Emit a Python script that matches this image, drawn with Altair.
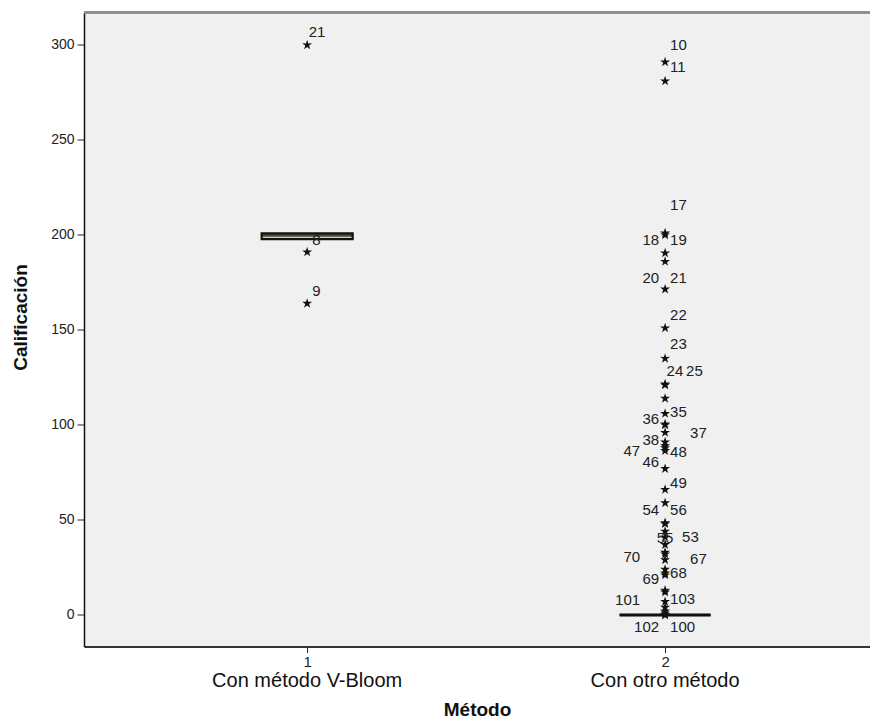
import altair as alt
import pandas as pd

# ---------------- data ----------------
groups = [1, 2]
group_names = ["Con método V-Bloom", "Con otro método"]
box_q1 = [197.8, 0]
box_median = [200, 0]
box_q3 = [200.8, 0]

outliers_g1 = [300, 191, 164]
outliers_g2 = [291, 281, 201, 200, 190.5, 186, 171.5, 151, 135, 121.5, 121, 114,
               106, 100.5, 100, 96, 91, 89, 88, 86.5, 77, 66, 59, 48.5, 48, 44,
               41, 37, 33, 32, 29, 24, 22, 21, 13, 12, 7, 4, 2, 1, 0, 0]

label_text = ["21", "8", "9",
              "10", "11", "17", "18", "19", "20", "21", "22", "23", "24", "25",
              "35", "36", "37", "38", "47", "48", "46", "49", "54", "56", "55",
              "53", "70", "67", "69", "68", "101", "103", "102", "100"]
label_value = [307, 197.4, 170.7,
               300, 288.4, 215.8, 197.4, 197.4, 177.5, 177.5, 157.9, 142.6, 128.4, 128.4,
               107, 103.2, 96, 92.1, 86.5, 86, 80.5, 69.6, 55.3, 55.3, 40.5,
               40.9, 30.7, 29.5, 18.9, 22.3, 7.9, 8.4, -6.3, -6.3]
label_group = [1, 1, 1] + [2] * 31
label_side = ["R0", "R", "R",
              "R", "R", "R", "L", "R", "L", "R", "R", "R", "R0", "RW",
              "R", "L", "RR", "L", "LL", "R", "L", "R", "L", "R", "C",
              "RM", "LL", "RR", "L", "R", "LL", "R", "L", "R"]

y_ticks = [0, 50, 100, 150, 200, 250, 300]

# ---------------- layout / style ----------------
W, H = 786, 634
FONT = "Liberation Sans"
X_DOMAIN = [0.3905, 2.5585]
Y_DOMAIN = [-16.58, 317.1]
side_style = {
    "R0": ("left", 1.5),
    "R": ("left", 5),
    "RM": ("left", 17),
    "RW": ("left", 21),
    "RR": ("left", 25),
    "L": ("right", -6),
    "LL": ("right", -25),
    "C": ("center", 0),
}

boxes = pd.DataFrame({"grupo": groups, "q1": box_q1, "med": box_median, "q3": box_q3})
names = pd.DataFrame({"grupo": groups, "nombre": group_names})
pts = pd.DataFrame({
    "grupo": [1] * len(outliers_g1) + [2] * len(outliers_g2),
    "valor": outliers_g1 + outliers_g2,
})
labels = pd.DataFrame({"texto": label_text, "valor": label_value,
                       "grupo": label_group, "lado": label_side})

xscale = alt.Scale(domain=X_DOMAIN, nice=False, zero=False)
yscale = alt.Scale(domain=Y_DOMAIN, nice=False, zero=False)

x_axis = alt.Axis(
    values=groups, format="d", title="Método", grid=False,
    labelFont=FONT, labelFontSize=15, labelColor="#222", labelPadding=2,
    tickSize=6, tickColor="#222", domainColor="#333", domainWidth=2,
    titleFont=FONT, titleFontSize=19, titleFontWeight="bold", titleColor="#111",
    titleY=63, titleBaseline="middle",
)
y_axis = alt.Axis(
    values=y_ticks, title="Calificación", grid=False,
    labelFont=FONT, labelFontSize=14, labelColor="#222", labelPadding=3,
    tickSize=7, tickColor="#222", domainColor="#111", domainWidth=1.5,
    titleFont=FONT, titleFontSize=19, titleFontWeight="bold", titleColor="#111",
    titleX=-64, titleY=304.5, titleAngle=-90, titleAlign="center",
    titleBaseline="middle",
)

STAR = ("M0,-1 L0.223,-0.307 L0.951,-0.309 L0.361,0.117 L0.588,0.809 L0,0.38 "
        "L-0.588,0.809 L-0.361,0.117 L-0.951,-0.309 L-0.223,-0.307 Z")

top_border = alt.Chart(names).mark_rule(color="#8c8c8c", strokeWidth=2.5).encode(
    x=alt.value(0), x2=alt.value(W), y=alt.value(0)
)

box = alt.Chart(boxes).mark_bar(
    size=91, color="#d6d2a0", stroke="#111", strokeWidth=2.2
).encode(
    x=alt.X("grupo:Q", scale=xscale, axis=x_axis),
    y=alt.Y("q1:Q", scale=yscale, axis=y_axis),
    y2="q3:Q",
)

median = alt.Chart(boxes).mark_tick(
    orient="horizontal", size=91, thickness=3.5, color="#111"
).encode(
    x=alt.X("grupo:Q", scale=xscale),
    y=alt.Y("med:Q", scale=yscale),
)

stars = alt.Chart(pts).mark_point(
    shape=STAR, size=110, filled=True, color="#111", opacity=1
).encode(
    x=alt.X("grupo:Q", scale=xscale),
    y=alt.Y("valor:Q", scale=yscale),
)

label_layers = []
for side, (align, dx) in side_style.items():
    label_layers.append(
        alt.Chart(labels).transform_filter(alt.datum.lado == side).mark_text(
            align=align, baseline="middle", dx=dx, font=FONT, fontSize=15,
            color="#222"
        ).encode(
            x=alt.X("grupo:Q", scale=xscale),
            y=alt.Y("valor:Q", scale=yscale),
            text="texto:N",
        )
    )

cat_names = alt.Chart(names).mark_text(
    baseline="middle", align="center", font=FONT, fontSize=20, color="#111"
).encode(
    x=alt.X("grupo:Q", scale=xscale),
    y=alt.value(H + 34),
    text="nombre:N",
)

chart = alt.layer(box, median, stars, *label_layers, top_border, cat_names).properties(
    width=W, height=H,
    autosize=alt.AutoSizeParams(type="none"),
    padding={"left": 76, "top": 4.5, "right": 0, "bottom": 80},
    background="white",
).configure_view(fill="#f0f0f0", stroke=None)

chart.save("out.html", embed_options={"renderer": "svg", "actions": False})
